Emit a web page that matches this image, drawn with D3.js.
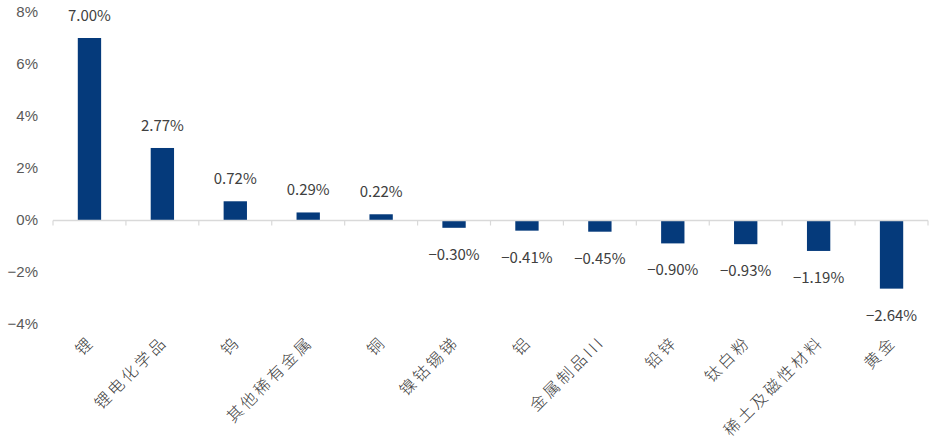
<!DOCTYPE html>
<html>
<head>
<meta charset="utf-8">
<script src="https://cdn.jsdelivr.net/npm/d3@7"></script>
<style>
  html, body { margin: 0; padding: 0; background: #fff; }
  svg { display: block; }
</style>
</head>
<body>
<svg id="chart" width="933" height="443"></svg>
<script>
// Sector returns (%)
const categories = ["锂", "锂电化学品", "钨", "其他稀有金属", "铜", "镍钴锡锑", "铝", "金属制品III", "铅锌", "钛白粉", "稀土及磁性材料", "黄金"];
const values = [7.00, 2.77, 0.72, 0.29, 0.22, -0.30, -0.41, -0.45, -0.90, -0.93, -1.19, -2.64];
const yTicks = [-4, -2, 0, 2, 4, 6, 8];

const svg = d3.select("#chart");
const margin = { left: 53, right: 5, top: 12, bottom: 119 };
const W = 933, H = 443;

const x = d3.scaleBand()
  .domain(categories)
  .range([margin.left, W - margin.right])
  .paddingInner(0.68)
  .paddingOuter(0.34);

const y = d3.scaleLinear()
  .domain([-4, 8])
  .range([H - margin.bottom, margin.top]);

// Y axis labels (no axis line)
const yAxis = d3.axisLeft(y)
  .tickValues(yTicks)
  .tickFormat(d => d3.format("d")(d) + "%")
  .tickSize(0)
  .tickPadding(0);
const gy = svg.append("g")
  .attr("transform", `translate(${38},0)`)
  .call(yAxis);
gy.select(".domain").remove();
gy.selectAll("text")
  .attr("fill", "#595959")
  .attr("font-family", "'Liberation Sans', Arial, sans-serif")
  .attr("font-size", 15);

// Bars
svg.append("g").selectAll("rect")
  .data(values)
  .join("rect")
  .attr("x", (d, i) => x(categories[i]))
  .attr("width", x.bandwidth())
  .attr("y", d => y(Math.max(0, d)))
  .attr("height", d => Math.abs(y(d) - y(0)))
  .attr("fill", "#053a7b");

// Zero line with category ticks
const step = x.step();
const x0 = margin.left, x1 = W - margin.right;
const zeroY = y(0) + 0.5;
const base = svg.append("g");
base.append("line")
  .attr("x1", x0).attr("x2", x1)
  .attr("y1", zeroY).attr("y2", zeroY)
  .attr("stroke", "#d9d9d9").attr("stroke-width", 1.5);
base.selectAll("line.tick")
  .data(d3.range(categories.length + 1))
  .join("line")
  .attr("class", "tick")
  .attr("x1", i => x0 + i * step).attr("x2", i => x0 + i * step)
  .attr("y1", zeroY).attr("y2", zeroY + 5)
  .attr("stroke", "#d9d9d9").attr("stroke-width", 1.2);

// Value labels
const fmt = d3.format(".2f");
svg.append("g").selectAll("text")
  .data(values)
  .join("text")
  .attr("x", (d, i) => x(categories[i]) + x.bandwidth() / 2)
  .attr("y", d => d >= 0 ? y(d) - 17 : y(d) + 32)
  .attr("text-anchor", "middle")
  .attr("fill", "#404040")
  .attr("font-family", "'Noto Sans CJK SC', sans-serif")
  .attr("font-size", 15)
  .text(d => fmt(d) + "%");

// Category labels, rotated
svg.append("g").selectAll("text")
  .data(categories)
  .join("text")
  .attr("transform", d => `translate(${x(d) + x.bandwidth() / 2 + 6},${343}) rotate(-45)`)
  .attr("text-anchor", "end")
  .attr("fill", "#404040")
  .attr("font-family", "'Noto Sans CJK SC', sans-serif")
  .attr("font-weight", 300)
  .attr("font-size", 16)
  .attr("letter-spacing", 3)
  .text(d => d);
</script>
</body>
</html>
